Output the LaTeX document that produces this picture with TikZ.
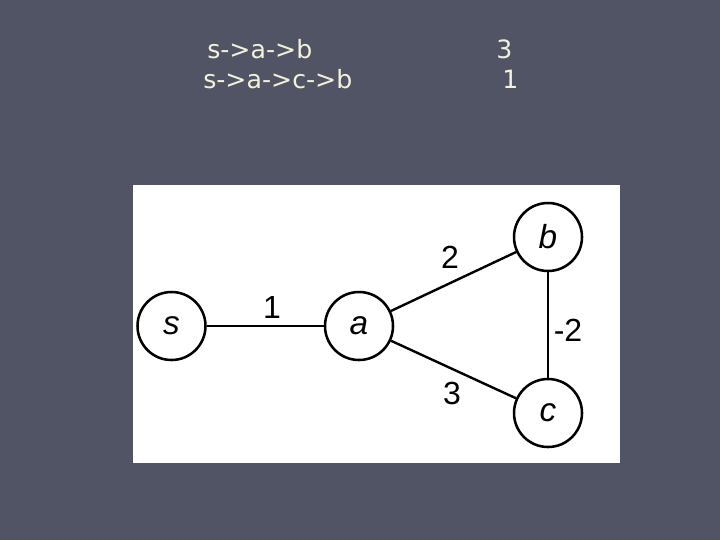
\documentclass[tikz,border=0pt]{standalone}
\usepackage{fontspec}
\setmainfont{Liberation Sans}
\newfontfamily\slidefont{DejaVu Sans}
\definecolor{slidebg}{RGB}{80,84,100}
\definecolor{slidetext}{RGB}{242,242,218}
\begin{document}
\begin{tikzpicture}[x=0.75pt,y=-0.75pt,
  vert/.style={circle,draw=black,line width=1.9pt,minimum size=51pt,inner sep=0pt,fill=white,font=\fontsize{25}{28}\selectfont\itshape},
  edgeline/.style={line width=1.8pt,draw=black},
  wlabel/.style={inner sep=0pt,font=\fontsize{24}{27}\selectfont},
  toptext/.style={anchor=base west,inner sep=0pt,text=slidetext,font=\slidefont\fontsize{18.9}{22}\selectfont}]
\fill[slidebg] (0,0) rectangle (720,540);
\useasboundingbox (0,0) rectangle (720,540);
\fill[white] (133,185) rectangle (620,463);
\node[toptext] (p1) at (207,58) {s->a->b};
\node[toptext] (p2) at (203,88) {s->a->c->b};
\node[toptext] (w1) at (496,58) {3};
\node[toptext] (w2) at (502,88) {1};
\node[vert] (s) at (171.5,326) {s};
\node[vert] (a) at (359,326) {a};
\node[vert] (b) at (548,237) {b};
\node[vert] (c) at (548,413) {c};
\draw[edgeline] (s) -- (a);
\draw[edgeline] (a) -- (b);
\draw[edgeline] (a) -- (c);
\draw[edgeline] (b) -- (c);
\node[wlabel] (l1) at (272,307) {1};
\node[wlabel] (l2) at (450,257) {2};
\node[wlabel] (l3) at (452,393) {3};
\node[wlabel] (l4) at (568,330) {-2};
\end{tikzpicture}
\end{document}
